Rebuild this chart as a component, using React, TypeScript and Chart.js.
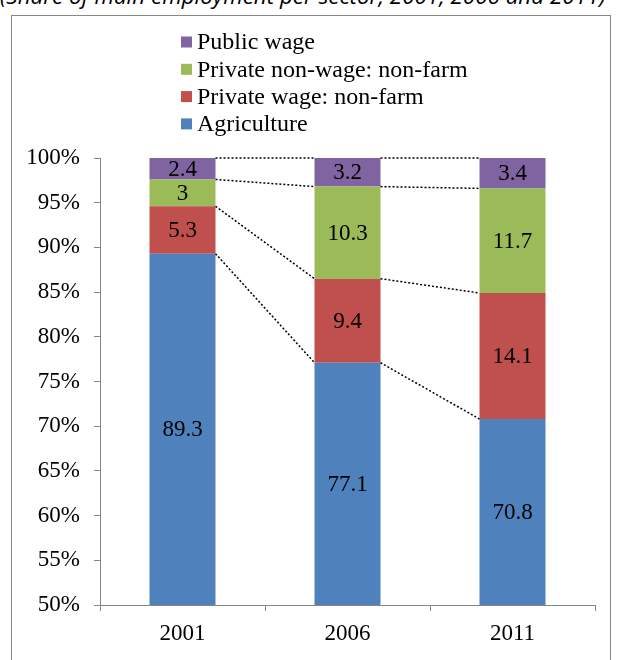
import React, { useEffect, useRef } from "react";
import { Chart, registerables } from "chart.js";

Chart.register(...registerables);

const years = ["2001", "2006", "2011"];
const agriculture = [89.3, 77.1, 70.8];
const privateWage = [5.3, 9.4, 14.1];
const privateNonWage = [3, 10.3, 11.7];
const publicWage = [2.4, 3.2, 3.4];
const seriesNames = ["Agriculture", "Private wage: non-farm", "Private non-wage: non-farm", "Public wage"];
const seriesColors = ["#4F81BD", "#C0504D", "#9BBB59", "#8064A2"];
const yTicks = [50, 55, 60, 65, 70, 75, 80, 85, 90, 95, 100];
const titleText = "(Share of main employment per sector, 2001, 2006 and 2011)";

const FONT = '"Liberation Serif", "Times New Roman", "DejaVu Serif", serif';

const overlayPlugin = {
  id: "overlay",
  afterDatasetsDraw(chart: any) {
    const ctx = chart.ctx;
    const n = chart.data.datasets.length;
    const area = chart.chartArea;
    ctx.save();
    ctx.strokeStyle = "#000";
    ctx.lineWidth = 1.5;
    ctx.setLineDash([2, 2]);
    for (let d = 0; d < n; d++) {
      const els = chart.getDatasetMeta(d).data;
      for (let i = 0; i < els.length - 1; i++) {
        const a = els[i] as any;
        const b = els[i + 1] as any;
        ctx.beginPath();
        ctx.moveTo(a.x + a.width / 2, a.y);
        ctx.lineTo(b.x - b.width / 2, b.y);
        ctx.stroke();
      }
    }
    ctx.restore();
    ctx.save();
    ctx.fillStyle = "#000";
    ctx.font = `23px ${FONT}`;
    ctx.textAlign = "center";
    ctx.textBaseline = "middle";
    for (let d = 0; d < n; d++) {
      const ds = chart.data.datasets[d];
      const els = chart.getDatasetMeta(d).data;
      els.forEach((el: any, i: number) => {
        const top = Math.max(el.y, area.top);
        const bot = Math.min(el.base, area.bottom);
        ctx.fillText(String(ds.data[i]), el.x, (top + bot) / 2 + 1);
      });
    }
    ctx.restore();
    ctx.save();
    ctx.font = `24px ${FONT}`;
    ctx.textAlign = "left";
    ctx.textBaseline = "middle";
    const rowH = 27.3;
    for (let k = 0; k < n; k++) {
      const d = n - 1 - k;
      const ds = chart.data.datasets[d];
      const cy = 26 + k * rowH;
      ctx.fillStyle = ds.backgroundColor;
      ctx.fillRect(169, cy - 5.5, 11, 11);
      ctx.fillStyle = "#000";
      ctx.fillText(ds.label, 185, cy + 1);
    }
    ctx.restore();
  },
};

export default function App() {
  const ref = useRef<HTMLCanvasElement>(null);
  useEffect(() => {
    let chart: any = null;
    let cancelled = false;
    const build = () => {
      if (cancelled || !ref.current) return;
      const data = [agriculture, privateWage, privateNonWage, publicWage];
      chart = new Chart(ref.current, {
        type: "bar",
        data: {
          labels: years,
          datasets: data.map((vals, i) => ({
            label: seriesNames[i],
            data: vals,
            backgroundColor: seriesColors[i],
            borderWidth: 0,
            barPercentage: 0.4,
            categoryPercentage: 1,
          })),
        },
        options: {
          animation: false,
          responsive: false,
          devicePixelRatio: 1,
          layout: { padding: { top: 142, right: 15, left: 0, bottom: 0 } },
          plugins: { legend: { display: false }, tooltip: { enabled: false }, title: { display: false } },
          scales: {
            x: {
              stacked: true,
              offset: true,
              grid: { display: true, drawOnChartArea: false, drawTicks: true, tickLength: 6, color: "#868686", offset: true },
              border: { display: true, color: "#868686", width: 1 },
              ticks: { color: "#000", font: { family: FONT, size: 23 }, padding: 9 },
              afterFit: (s: any) => { s.height = 55; },
            },
            y: {
              stacked: true,
              min: 50,
              max: 100,
              afterBuildTicks: (s: any) => { s.ticks = yTicks.map((v) => ({ value: v })); },
              grid: { display: true, drawOnChartArea: false, drawTicks: true, tickLength: 6, color: "#868686" },
              border: { display: true, color: "#868686", width: 1 },
              ticks: { color: "#000", font: { family: FONT, size: 23 }, padding: 14, callback: (v: any) => v + "%" },
              afterFit: (s: any) => { s.width = 88; },
            },
          },
        },
        plugins: [overlayPlugin],
      });
    };
    const fonts: any = (document as any).fonts;
    if (fonts && fonts.load) {
      Promise.all([
        fonts.load('23px "Liberation Serif"'),
        fonts.load('23px "DejaVu Serif"'),
      ]).then(build, build);
    } else {
      build();
    }
    return () => {
      cancelled = true;
      if (chart) chart.destroy();
    };
  }, []);

  return (
    <div style={{ position: "absolute", left: 0, top: 0, width: 621, height: 660, overflow: "hidden", background: "#fff" }}>
      <div
        style={{
          position: "absolute",
          left: 0,
          top: -17,
          whiteSpace: "nowrap",
          fontFamily: "'Open Sans', sans-serif",
          fontStyle: "italic",
          fontSize: 22.4,
          lineHeight: "26px",
          color: "#000",
        }}
      >
        {titleText}
      </div>
      <div
        style={{
          position: "absolute",
          left: 11,
          top: 15,
          width: 598,
          height: 700,
          border: "1px solid #888",
        }}
      />
      <canvas ref={ref} width={598} height={644} style={{ position: "absolute", left: 12, top: 16, width: 598, height: 644 }} />
    </div>
  );
}
